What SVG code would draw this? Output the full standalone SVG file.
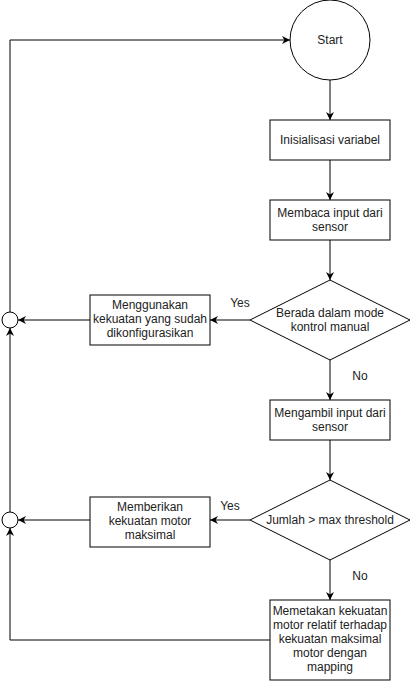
<svg xmlns="http://www.w3.org/2000/svg" width="411" height="682" viewBox="0 0 411 682">
<style>
.n{fill:#fff;stroke:#000;stroke-width:1}
.t{font-family:"Liberation Sans",Arial,sans-serif;font-size:12px;fill:#222;text-anchor:middle}
.e{fill:none;stroke:#000;stroke-width:1}
</style>
<defs>
<marker id="a" viewBox="0 0 10 10" refX="10" refY="5" markerWidth="8" markerHeight="8" markerUnits="userSpaceOnUse" orient="auto">
<path d="M0,0 L10,5 L0,10 L3,5 Z" fill="#000"/>
</marker>
</defs>
<rect width="411" height="682" fill="#fff"/>
<g id="connectors">
<path class="e" d="M330,80 V120" marker-end="url(#a)"/>
<path class="e" d="M330,160 V200" marker-end="url(#a)"/>
<path class="e" d="M330,240 V280" marker-end="url(#a)"/>
<path class="e" d="M250,320 H210" marker-end="url(#a)"/>
<path class="e" d="M90,320 H18" marker-end="url(#a)"/>
<path class="e" d="M330,360 V400" marker-end="url(#a)"/>
<path class="e" d="M330,440 V480" marker-end="url(#a)"/>
<path class="e" d="M250,520 H210" marker-end="url(#a)"/>
<path class="e" d="M90,520 H18" marker-end="url(#a)"/>
<path class="e" d="M330,560 V600" marker-end="url(#a)"/>
<path class="e" d="M270,640 H10 V528" marker-end="url(#a)"/>
<path class="e" d="M10,512 V328" marker-end="url(#a)"/>
<path class="e" d="M10,312 V40 H290" marker-end="url(#a)"/>
<text class="t" x="240" y="307">Yes</text>
<text class="t" x="360" y="380">No</text>
<text class="t" x="230" y="510">Yes</text>
<text class="t" x="360" y="580">No</text>
</g>
<g id="start"><circle class="n" cx="330" cy="40" r="40"/><text class="t" x="330" y="44">Start</text></g>
<g id="init"><rect class="n" x="270" y="120" width="120" height="40"/><text class="t" x="330" y="144">Inisialisasi variabel</text></g>
<g id="read"><rect class="n" x="270" y="200" width="120" height="40"/><text class="t" x="330" y="217">Membaca input dari</text><text class="t" x="330" y="231">sensor</text></g>
<g id="manual"><path class="n" d="M330,280 L410,320 L330,360 L250,320 Z"/><text class="t" x="330" y="317">Berada dalam mode</text><text class="t" x="330" y="331">kontrol manual</text></g>
<g id="configured"><rect class="n" x="90" y="295" width="120" height="50"/><text class="t" x="150" y="309">Menggunakan</text><text class="t" x="150" y="323">kekuatan yang sudah</text><text class="t" x="150" y="337">dikonfigurasikan</text></g>
<g id="join1"><circle class="n" cx="10" cy="320" r="8"/></g>
<g id="take"><rect class="n" x="270" y="400" width="120" height="40"/><text class="t" x="330" y="417">Mengambil input dari</text><text class="t" x="330" y="431">sensor</text></g>
<g id="threshold"><path class="n" d="M330,480 L410,520 L330,560 L250,520 Z"/><text class="t" x="330" y="524">Jumlah &gt; max threshold</text></g>
<g id="max"><rect class="n" x="90" y="497" width="120" height="50"/><text class="t" x="150" y="511">Memberikan</text><text class="t" x="150" y="525">kekuatan motor</text><text class="t" x="150" y="539">maksimal</text></g>
<g id="join2"><circle class="n" cx="10" cy="520" r="8"/></g>
<g id="map"><rect class="n" x="270" y="600" width="120" height="80"/><text class="t" x="330" y="615">Memetakan kekuatan</text><text class="t" x="330" y="629">motor relatif terhadap</text><text class="t" x="330" y="643">kekuatan maksimal</text><text class="t" x="330" y="657">motor dengan</text><text class="t" x="330" y="671">mapping</text></g>
</svg>
